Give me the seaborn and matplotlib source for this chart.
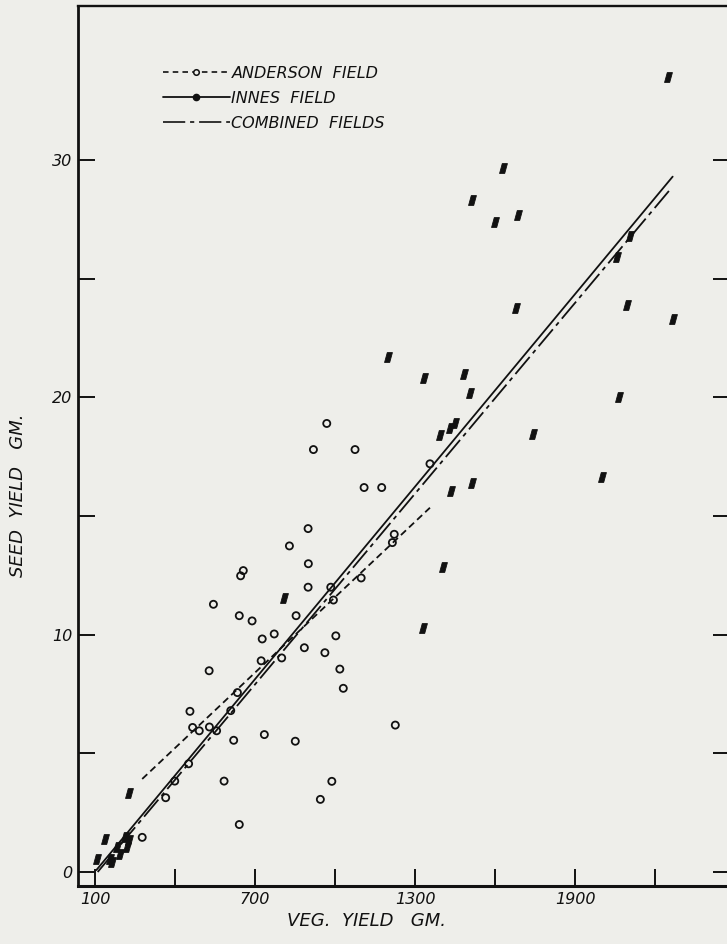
import matplotlib
matplotlib.use('Agg')
import matplotlib.pyplot as plt
import seaborn as sns
from matplotlib.lines import Line2D

# ---- data ----
anderson_veg = [969, 919, 1075, 1356, 1109, 1175, 899, 829, 1222, 1215, 900, 656, 646,
                899, 984, 1098, 994, 544, 641, 689, 854, 772, 727, 1003, 885, 962, 800,
                723, 1018, 1031, 528, 634, 609, 456, 466, 491, 529, 556, 620, 735, 851,
                1226, 451, 399, 584, 365, 641, 277, 988, 945]
anderson_seed = [18.9, 17.8, 17.8, 17.2, 16.2, 16.2, 14.47, 13.74, 14.23, 13.88, 12.99, 12.7, 12.48,
                 12.0, 12.0, 12.39, 11.46, 11.28, 10.8, 10.58, 10.8, 10.03, 9.82, 9.95, 9.45, 9.24, 9.02,
                 8.9, 8.55, 7.74, 8.48, 7.56, 6.8, 6.77, 6.09, 5.95, 6.11, 5.95, 5.55, 5.79, 5.51,
                 6.19, 4.56, 3.83, 3.83, 3.13, 2.0, 1.46, 3.82, 3.06]

innes_veg = [2249, 1631, 1513, 1687, 1601, 2106, 2056, 1679, 2093, 2266, 1197, 1335, 1484,
             1506, 2066, 1450, 1431, 1394, 1744, 2000, 1513, 1434, 1406, 1329, 810, 226,
             139, 214, 226, 221, 181, 194, 107, 155, 165]
innes_seed = [33.5, 29.65, 28.3, 27.7, 27.4, 26.8, 25.9, 23.75, 23.9, 23.3, 21.7, 20.8, 20.97,
              20.2, 20.0, 18.9, 18.7, 18.4, 18.45, 16.66, 16.4, 16.07, 12.84, 10.27, 11.56, 3.34,
              1.40, 1.49, 1.35, 1.04, 1.04, 0.75, 0.54, 0.55, 0.41]

anderson_fit_veg = [277, 1356]
anderson_fit_seed = [3.92, 15.35]
innes_fit_veg = [105, 2266]
innes_fit_seed = [0.08, 29.3]
combined_fit_veg = [110, 2262]
combined_fit_seed = [0.0, 28.83]

x_ticks = [100, 400, 700, 1000, 1300, 1600, 1900, 2200]
x_tick_labels = ['100', '', '700', '', '1300', '', '1900', '']
y_ticks = [0, 5, 10, 15, 20, 25, 30]
y_tick_labels = ['0', '', '10', '', '20', '', '30']
legend_labels = ['ANDERSON  FIELD', 'INNES  FIELD', 'COMBINED  FIELDS']
x_label = 'VEG.  YIELD   GM.'
y_label = 'SEED  YIELD   GM.'

# ---- style ----
sns.set_theme(style='white')
plt.rcParams['font.family'] = ['DejaVu Sans']
plt.rcParams['lines.scale_dashes'] = False

bg = '#eeeeea'
ink = '#111111'

fig = plt.figure(figsize=(7.27, 9.44), dpi=100, facecolor=bg)
ax = fig.add_axes([78 / 727, (944 - 886) / 944, (730 - 78) / 727, (886 - 6) / 944])
ax.set_facecolor(bg)

# scatter points
sns.scatterplot(x=anderson_veg, y=anderson_seed, marker='o', s=26, facecolors='none',
                edgecolor=ink, linewidth=1.3, ax=ax, zorder=3)
para = [(-0.8, -1), (0.25, -1), (0.8, 1), (-0.25, 1), (-0.8, -1)]
sns.scatterplot(x=innes_veg, y=innes_seed, marker=para, s=50, color=ink,
                edgecolor=ink, linewidth=0.6, ax=ax, zorder=3)

# regression lines
sns.lineplot(x=anderson_fit_veg, y=anderson_fit_seed, color=ink, linewidth=1.3,
             linestyle=(0, (5, 3)), ax=ax, zorder=2)
sns.lineplot(x=innes_fit_veg, y=innes_fit_seed, color=ink, linewidth=1.3,
             linestyle='-', ax=ax, zorder=2)
sns.lineplot(x=combined_fit_veg, y=combined_fit_seed, color=ink, linewidth=1.3,
             linestyle=(0, (16, 3.5, 3, 3.5)), ax=ax, zorder=2)

ax.set_xlim(36.25, 2481)
ax.set_ylim(-0.59, 36.49)

# ticks
ax.set_xticks(x_ticks)
ax.set_xticklabels(x_tick_labels, fontstyle='italic', fontsize=11.5, color=ink)
ax.set_yticks(y_ticks)
ax.set_yticklabels(y_tick_labels, fontstyle='italic', fontsize=11.5, color=ink)
ax.tick_params(axis='x', direction='in', length=12, width=1.4, bottom=True, top=False,
               pad=4, color=ink)
ax.tick_params(axis='y', direction='in', length=12, width=1.4, left=True, right=True,
               pad=4, color=ink)

for s in ['left', 'bottom', 'top', 'right']:
    ax.spines[s].set_color(ink)
ax.spines['left'].set_linewidth(2.0)
ax.spines['bottom'].set_linewidth(2.2)
ax.spines['top'].set_linewidth(1.7)
ax.spines['right'].set_linewidth(1.7)

ax.set_xlabel(x_label, fontstyle='italic', fontsize=13, color=ink)
ax.xaxis.set_label_coords(0.443, -0.030)
ax.set_ylabel(y_label, fontstyle='italic', fontsize=13, color=ink)
ax.yaxis.set_label_coords(-0.078, 0.444)

# legend
handles = [
    Line2D([], [], color=ink, lw=1.2, linestyle=(0, (4, 3)), marker='o', markersize=4,
           markerfacecolor=bg, markeredgecolor=ink, markeredgewidth=1.1),
    Line2D([], [], color=ink, lw=1.3, linestyle='-', marker='o', markersize=4.5,
           markerfacecolor=ink, markeredgecolor=ink),
    Line2D([], [], color=ink, lw=1.2, linestyle=(0, (16, 3.5, 3, 3.5))),
]
leg = ax.legend(handles, legend_labels, loc='upper left', bbox_to_anchor=(0.13, 0.932),
                frameon=False, handlelength=4.2, handletextpad=0.1, labelspacing=0.62,
                borderaxespad=0, borderpad=0, numpoints=1,
                prop={'style': 'italic', 'size': 11.5})
for t in leg.get_texts():
    t.set_color(ink)

fig.savefig('out.png', dpi=100, facecolor=bg)
